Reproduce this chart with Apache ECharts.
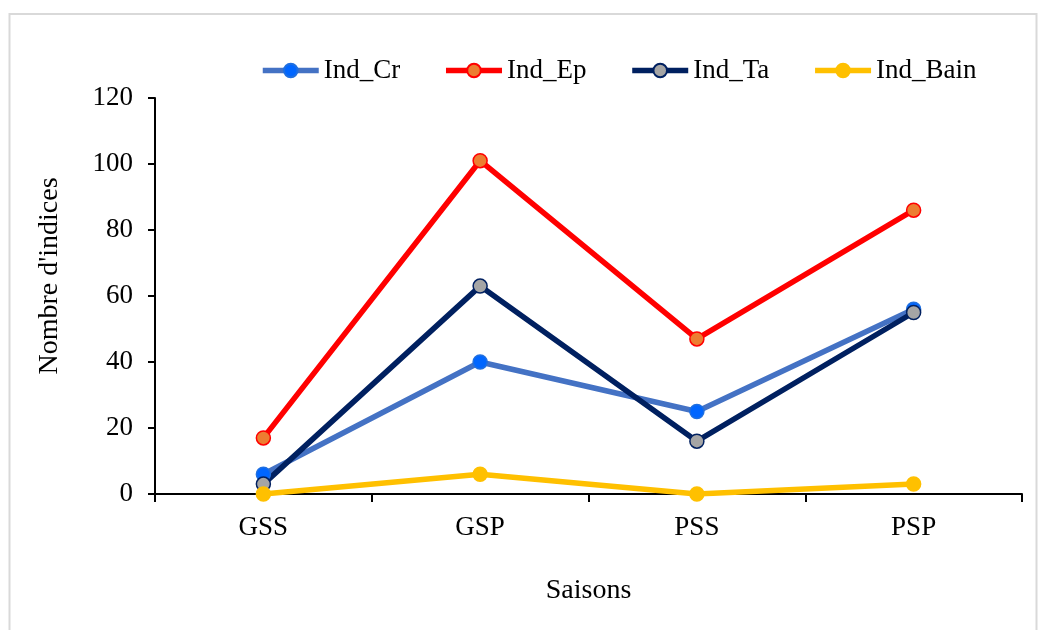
<!DOCTYPE html>
<html>
<head>
<meta charset="utf-8">
<script src="https://cdn.jsdelivr.net/npm/echarts@6/dist/echarts.min.js"></script>
<style>
html,body{margin:0;padding:0;background:#fff;}
#chart{width:1038px;height:630px;}
</style>
</head>
<body>
<div id="chart"></div>
<script>
const categories = ['GSS', 'GSP', 'PSS', 'PSP'];
const indCr = [6, 40, 25, 56];
const indEp = [17, 101, 47, 86];
const indTa = [3, 63, 16, 55];
const indBain = [0, 6, 0, 3];
const seriesNames = ['Ind_Cr', 'Ind_Ep', 'Ind_Ta', 'Ind_Bain'];
const xTitle = 'Saisons';
const yTitle = "Nombre d'indices";

const FONT = '"Liberation Serif", "Times New Roman", serif';
const FS = 27;

function mk(name, data, line, fill, border) {
  return {
    name: name,
    type: 'line',
    data: data,
    symbol: 'circle',
    symbolSize: 14,
    lineStyle: { color: line, width: 5.5 },
    itemStyle: { color: fill, borderColor: border, borderWidth: 1.5 },
    emphasis: { disabled: true },
    animation: false
  };
}

const chart = echarts.init(document.getElementById('chart'));
chart.setOption({
  backgroundColor: '#fff',
  animation: false,
  graphic: [
    {
      type: 'rect',
      shape: { x: 9.5, y: 14, width: 1027, height: 700 },
      style: { fill: 'none', stroke: '#D9D9D9', lineWidth: 2 },
      silent: true
    },
    {
      type: 'text',
      x: 50, y: 276,
      rotation: Math.PI / 2,
      style: {
        text: yTitle,
        font: '28px ' + FONT,
        fill: '#000',
        align: 'center',
        verticalAlign: 'middle'
      }
    }
  ],
  legend: {
    data: seriesNames,
    left: 255,
    top: 52,
    itemWidth: 56,
    itemHeight: 17,
    itemGap: 43,
    lineStyle: { width: 5.5 },
    textStyle: { fontFamily: FONT, fontSize: FS, color: '#000' }
  },
  grid: { left: 155, right: 16, top: 98, bottom: 136, containLabel: false },
  xAxis: {
    type: 'category',
    data: categories,
    boundaryGap: true,
    name: xTitle,
    nameLocation: 'middle',
    nameGap: 83,
    nameTextStyle: { fontFamily: FONT, fontSize: 28, color: '#000' },
    axisLine: { lineStyle: { color: '#000', width: 2 } },
    axisTick: { show: true, length: 8, lineStyle: { color: '#000', width: 2 }, alignWithLabel: false },
    axisLabel: { fontFamily: FONT, fontSize: FS, color: '#000', margin: 20 },
    splitLine: { show: false }
  },
  yAxis: {
    type: 'value',
    min: 0,
    max: 120,
    interval: 20,
    axisLine: { show: true, lineStyle: { color: '#000', width: 2 } },
    axisTick: { show: true, length: 7, lineStyle: { color: '#000', width: 2 } },
    axisLabel: { fontFamily: FONT, fontSize: FS, color: '#000', margin: 22 },
    splitLine: { show: false }
  },
  series: [
    mk(seriesNames[0], indCr, '#4472C4', '#0066FF', '#1F6FE0'),
    mk(seriesNames[1], indEp, '#FF0000', '#ED7D31', '#FF0000'),
    mk(seriesNames[2], indTa, '#002060', '#A5A5A5', '#002060'),
    mk(seriesNames[3], indBain, '#FFC000', '#FFC000', '#FFC000')
  ]
});
</script>
</body>
</html>
